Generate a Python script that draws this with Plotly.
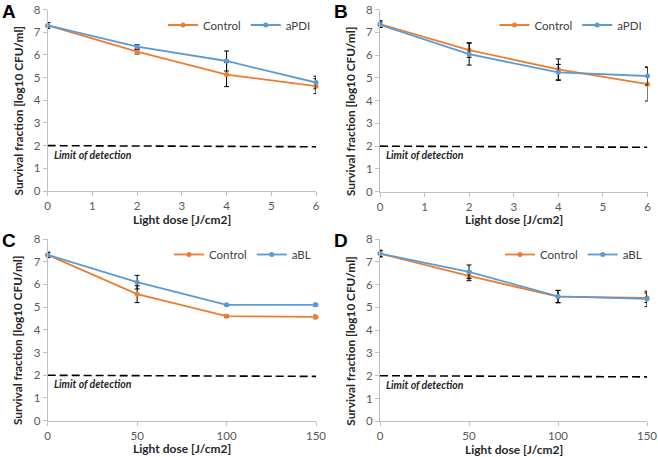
import plotly.graph_objects as go

# ---------------- data ----------------
dose_pdi = [0, 2, 4, 6]
dose_bl = [0, 50, 100, 150]

a_control = [7.30, 6.14, 5.13, 4.62]
a_control_err = [0.12, 0.10, 0.53, 0.33]
a_treat = [7.30, 6.36, 5.73, 4.78]
a_treat_err = [0.12, 0.09, 0.44, 0.28]

b_control = [7.36, 6.22, 5.37, 4.72]
b_control_err = [0.15, 0.32, 0.46, 0.74]
b_treat = [7.33, 6.04, 5.24, 5.08]
b_treat_err = [0.12, 0.48, 0.35, 0.40]

c_control = [7.30, 5.57, 4.60, 4.57]
c_control_err = [0.12, 0.37, 0.05, 0.08]
c_treat = [7.30, 6.10, 5.10, 5.10]
c_treat_err = [0.10, 0.30, 0.04, 0.07]

d_control = [7.36, 6.38, 5.47, 5.42]
d_control_err = [0.15, 0.21, 0.27, 0.21]
d_treat = [7.36, 6.56, 5.48, 5.37]
d_treat_err = [0.12, 0.30, 0.27, 0.34]

lod_start, lod_end = 2.0, 1.95
panel_letters = ["A", "B", "C", "D"]
treat_names = ["aPDI", "aPDI", "aBL", "aBL"]
x_title = "Light dose [J/cm2]"
y_title = "Survival fraction [log10 CFU/ml]"
lod_label = "Limit of detection"

ORANGE = "#ED7D31"
BLUE = "#5B9BD5"
W, H = 658, 457
FONT = "Lato"

panels = [
    (dose_pdi, a_control, a_control_err, a_treat, a_treat_err),
    (dose_pdi, b_control, b_control_err, b_treat, b_treat_err),
    (dose_bl, c_control, c_control_err, c_treat, c_treat_err),
    (dose_bl, d_control, d_control_err, d_treat, d_treat_err),
]

# plot-area pixel boxes (left, right, top, bottom)
boxes = [
    (47.7, 316.0, 9.5, 191.0),
    (380.0, 647.5, 9.5, 191.7),
    (47.7, 316.0, 239.0, 420.7),
    (380.0, 647.0, 239.0, 421.3),
]

fig = go.Figure()

for i, (xs, ctl, ctl_e, trt, trt_e) in enumerate(panels):
    n = i + 1
    xa = "x" if n == 1 else f"x{n}"
    ya = "y" if n == 1 else f"y{n}"
    lg = "legend" if n == 1 else f"legend{n}"
    l, r, t, b = boxes[i]
    dom_x = [l / W, r / W]
    dom_y = [1 - b / H, 1 - t / H]

    # limit of detection line
    fig.add_trace(go.Scatter(
        x=[xs[0], xs[-1]], y=[lod_start, lod_end], mode="lines",
        line=dict(color="black", width=1.6, dash="8px,4px"),
        xaxis=xa, yaxis=ya, showlegend=False, hoverinfo="skip"))

    fig.add_trace(go.Scatter(
        x=xs, y=ctl, mode="lines+markers", name="Control",
        line=dict(color=ORANGE, width=1.8),
        marker=dict(color=ORANGE, size=5),
        error_y=dict(type="data", array=ctl_e, color="black", thickness=1, width=2.5),
        xaxis=xa, yaxis=ya, legend=lg, cliponaxis=False))
    fig.add_trace(go.Scatter(
        x=xs, y=trt, mode="lines+markers", name=treat_names[i],
        line=dict(color=BLUE, width=1.8),
        marker=dict(color=BLUE, size=5),
        error_y=dict(type="data", array=trt_e, color="black", thickness=1, width=2.5),
        xaxis=xa, yaxis=ya, legend=lg, cliponaxis=False))

    axis_common = dict(
        showgrid=False, zeroline=False, showline=True, linecolor="#BFBFBF",
        linewidth=1, ticks="outside", ticklen=4, tickcolor="#BFBFBF",
        automargin=False,
        tickfont=dict(family=FONT, size=11.5, color="#595959"))
    xkey = "xaxis" if n == 1 else f"xaxis{n}"
    ykey = "yaxis" if n == 1 else f"yaxis{n}"
    fig.update_layout({
        xkey: dict(axis_common, domain=dom_x, anchor=ya,
                   range=[xs[0], xs[-1]], tickmode="array",
                   tickvals=(list(range(0, 7)) if n <= 2 else [0, 50, 100, 150])),
        ykey: dict(axis_common, domain=dom_y, anchor=xa, range=[0, 8],
                   tickmode="linear", tick0=0, dtick=1),
        lg: dict(x=r / W, xanchor="right", y=1 - (t + 1) / H, yanchor="top",
                 orientation="h", bgcolor="rgba(0,0,0,0)",
                 font=dict(family=FONT, size=11.5, color="#404040"),
                 itemwidth=30, tracegroupgap=0),
    })

    # axis titles
    fig.add_annotation(x=(l + r) / 2 / W, y=1 - (b + 28) / H, xref="paper", yref="paper",
                       xanchor="center", yanchor="middle", showarrow=False,
                       text=f"<b>{x_title}</b>",
                       font=dict(family=FONT, size=12, color="#262626"))
    fig.add_annotation(x=(l - 29.5) / W, y=1 - ((t + b) / 2 + 11) / H,
                       xref="paper", yref="paper",
                       xanchor="center", yanchor="middle", showarrow=False, textangle=-90,
                       text=f"<b>{y_title}</b>",
                       font=dict(family=FONT, size=11.8, color="#262626"))

    # limit-of-detection label
    fig.add_annotation(x=xs[0], y=1.6, xref=xa, yref=ya, xanchor="left",
                       xshift=4, showarrow=False,
                       text=f"<b><i>{lod_label}</i></b>",
                       font=dict(family=FONT, size=10.5, color="#262626"))
    # panel letter
    fig.add_annotation(x=(l - 48) / W, y=1 - (t - 11) / H, xref="paper", yref="paper",
                       xanchor="left", yanchor="top", showarrow=False,
                       text=f"<b>{panel_letters[i]}</b>",
                       font=dict(family="Liberation Sans", size=19, color="black"))

fig.update_layout(
    width=W, height=H, margin=dict(l=0, r=0, t=0, b=0),
    paper_bgcolor="white", plot_bgcolor="white",
)

fig.write_html("out.html", config={"displayModeBar": False},
               post_script="document.body.style.margin='0';document.body.style.overflow='hidden';")
